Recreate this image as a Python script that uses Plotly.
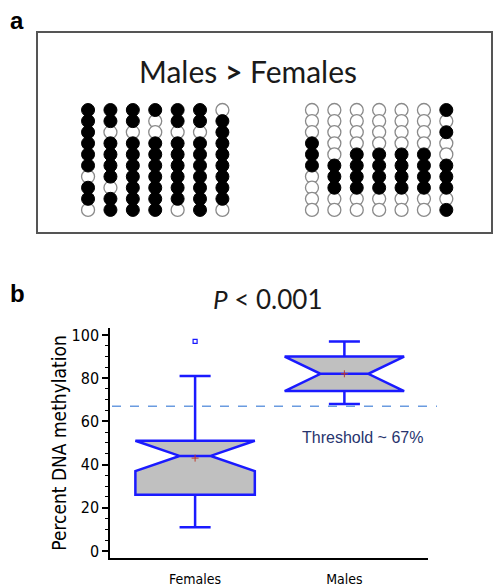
import plotly.graph_objects as go

W, H = 494, 586

# ---------------- Panel a data (1 = methylated / filled, 0 = unmethylated / open)
# each inner list is one column, rows listed top -> bottom
MALE_COLUMNS = [
    [1, 1, 1, 1, 1, 1, 0, 1, 1, 0],
    [1, 1, 0, 1, 1, 1, 1, 0, 1, 1],
    [1, 1, 0, 1, 1, 1, 1, 1, 1, 1],
    [1, 0, 0, 1, 1, 1, 1, 1, 1, 1],
    [1, 1, 0, 1, 1, 1, 1, 1, 1, 0],
    [1, 1, 0, 1, 1, 1, 1, 1, 1, 1],
    [0, 1, 1, 1, 1, 1, 1, 1, 1, 0],
]
FEMALE_COLUMNS = [
    [0, 0, 0, 1, 1, 1, 0, 0, 0, 0],
    [0, 0, 0, 0, 0, 1, 1, 1, 0, 0],
    [0, 0, 0, 0, 1, 1, 1, 1, 0, 0],
    [0, 0, 0, 0, 1, 1, 1, 1, 0, 0],
    [0, 0, 0, 0, 1, 1, 1, 1, 0, 0],
    [0, 0, 0, 0, 1, 1, 1, 1, 0, 0],
    [1, 0, 1, 0, 0, 1, 1, 1, 0, 1],
]
MALE_COL_POS = [0, 1, 2, 3, 4, 5, 6]
FEMALE_COL_POS = [10, 11, 12, 13, 14, 15, 16]

# ---------------- Panel b data
CATEGORIES = ["Females", "Males"]
Q1 = [26, 74]
MEDIAN = [44, 82]
Q3 = [51, 90]
LOWER_WHISKER = [11, 68]
UPPER_WHISKER = [81, 97]
NOTCH_SPAN = [7, 8]
NOTCH_WIDTH = [0.37, 0.3]
MEANS = [43, 82]
OUTLIER_CATS = ["Females"]
OUTLIER_VALUES = [97]
THRESHOLD = 67
Y_TICKS = [0, 20, 40, 60, 80, 100]

NARROW = "DejaVu Sans Condensed, Liberation Sans Narrow, Arial Narrow, Roboto, sans-serif"
ARIAL = "Liberation Sans, Arial, sans-serif"
CALIBRI = "Lato, Carlito, Calibri, sans-serif"

fig = go.Figure()

# ---- panel a dots
def add_group(columns, positions):
    xs_f, ys_f, xs_o, ys_o = [], [], [], []
    for cpos, col in zip(positions, columns):
        for r, v in enumerate(col):
            if v:
                xs_f.append(cpos); ys_f.append(r)
            else:
                xs_o.append(cpos); ys_o.append(r)
    fig.add_trace(go.Scatter(x=xs_o, y=ys_o, mode="markers", xaxis="x2", yaxis="y2",
                             marker=dict(symbol="circle", size=13, color="white",
                                         line=dict(color="#8a8a8a", width=1.3)),
                             showlegend=False, hoverinfo="skip"))
    fig.add_trace(go.Scatter(x=xs_f, y=ys_f, mode="markers", xaxis="x2", yaxis="y2",
                             marker=dict(symbol="circle", size=13, color="black",
                                         line=dict(color="black", width=1)),
                             showlegend=False, hoverinfo="skip"))

add_group(MALE_COLUMNS, MALE_COL_POS)
add_group(FEMALE_COLUMNS, FEMALE_COL_POS)

# ---- panel b boxes
for i, cat in enumerate(CATEGORIES):
    fig.add_trace(go.Box(
        x=[cat], q1=[Q1[i]], median=[MEDIAN[i]], q3=[Q3[i]],
        lowerfence=[LOWER_WHISKER[i]], upperfence=[UPPER_WHISKER[i]],
        notchspan=[NOTCH_SPAN[i]], notched=True, notchwidth=NOTCH_WIDTH[i],
        width=0.8, whiskerwidth=0.26,
        fillcolor="#c0c0c0", line=dict(color="#1a1aff", width=2.5),
        boxpoints=False, showlegend=False, hoverinfo="skip",
        xaxis="x", yaxis="y"))

fig.add_trace(go.Scatter(x=CATEGORIES, y=MEANS, mode="markers",
                         marker=dict(symbol="cross-thin", size=5, color="#c0392b",
                                     line=dict(color="#c0392b", width=1)),
                         showlegend=False, hoverinfo="skip"))
fig.add_trace(go.Scatter(x=OUTLIER_CATS, y=OUTLIER_VALUES, mode="markers",
                         marker=dict(symbol="square-open", size=4, color="#1a1aff",
                                     line=dict(width=1.2)),
                         showlegend=False, hoverinfo="skip"))

# threshold line
fig.add_shape(type="line", xref="paper", yref="y", x0=112 / W, x1=437 / W,
              y0=THRESHOLD, y1=THRESHOLD,
              line=dict(color="#6a9be0", width=1.5, dash="dash"))

# panel a frame
fig.add_shape(type="rect", xref="paper", yref="paper",
              x0=37 / W, x1=492 / W, y0=1 - 233 / H, y1=1 - 32 / H,
              line=dict(color="#555555", width=2))

annotations = [
    dict(text="<b>a</b>", x=8 / W, y=1 - 21 / H, xanchor="left", yanchor="middle",
         font=dict(family=ARIAL, size=24, color="black")),
    dict(text="<b>b</b>", x=8 / W, y=1 - 293 / H, xanchor="left", yanchor="middle",
         font=dict(family=ARIAL, size=24, color="black")),
    dict(text="Males <b>&gt;</b> Females", x=248 / W, y=1 - 71 / H,
         xanchor="center", yanchor="middle",
         font=dict(family=CALIBRI, size=30, color="#1a1a1a")),
    dict(text="<i>P</i> &lt; 0.001", x=267 / W, y=1 - 299 / H,
         xanchor="center", yanchor="middle",
         font=dict(family=CALIBRI, size=26, color="#1a1a1a")),
    dict(text="Threshold ~ 67%", x=362 / W, y=1 - 437 / H,
         xanchor="center", yanchor="middle",
         font=dict(family=ARIAL, size=16, color="#27346e")),
]
for a in annotations:
    a.update(xref="paper", yref="paper", showarrow=False)

fig.update_layout(
    width=W, height=H, autosize=False,
    margin=dict(l=0, r=0, t=0, b=0),
    paper_bgcolor="white", plot_bgcolor="white",
    showlegend=False,
    annotations=annotations,
    xaxis=dict(domain=[110 / W, 428 / W], range=[-0.57, 1.56],
               type="category", categoryorder="array", categoryarray=CATEGORIES,
               showline=True, linecolor="black", linewidth=2,
               ticks="", showgrid=False, zeroline=False, automargin=False,
               ticklabelstandoff=7,
               tickfont=dict(family=NARROW, size=14, color="black")),
    yaxis=dict(domain=[1 - 558 / H, 1 - 328 / H], range=[-3.24, 103.2],
               tickvals=Y_TICKS, showline=True, linecolor="black", linewidth=1.5,
               ticks="outside", ticklen=6, tickwidth=1.5, tickcolor="black",
               minor=dict(dtick=5, ticks="outside", ticklen=3.5, tickwidth=1.2,
                          tickcolor="black", showgrid=False),
               showgrid=False, zeroline=False, automargin=False,
               tickfont=dict(family=NARROW, size=16, color="black"),
               title=dict(text="Percent DNA methylation", standoff=0,
                          font=dict(family=NARROW, size=19, color="black"))),
    xaxis2=dict(domain=[37 / W, 492 / W], range=[-2.28, 18.04], visible=False,
                anchor="y2"),
    yaxis2=dict(domain=[1 - 233 / H, 1 - 32 / H], range=[11.08, -7.03], visible=False,
                anchor="x2"),
)

fig.write_html("out.html", config={"displayModeBar": False},
               post_script="document.body.style.margin='0px';document.body.style.padding='0px';")
